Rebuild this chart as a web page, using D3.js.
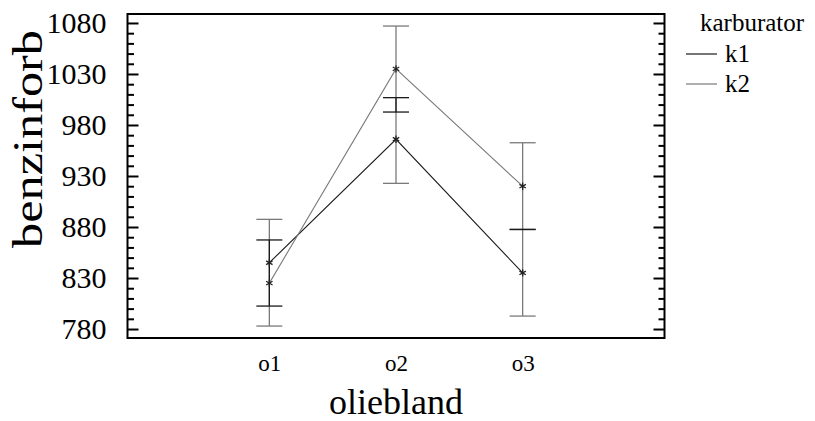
<!DOCTYPE html>
<html>
<head>
<meta charset="utf-8">
<script src="https://cdn.jsdelivr.net/npm/d3@7"></script>
<style>
  html, body { margin: 0; padding: 0; background: #fff; }
  svg { display: block; }
  text { font-family: "Liberation Serif", "Times New Roman", serif; fill: #000; }
</style>
</head>
<body>
<svg id="chart" width="815" height="421"></svg>
<script>
// Interaction plot: fuel use by oil blend for two carburettors
const categories = ["o1", "o2", "o3"];
const seriesNames = ["k1", "k2"];
const k1Means = [845, 966, 835];
const k2Means = [825, 1035, 920];
// interval bars drawn at each oil blend
const innerLow = [802.5, 992.7, 877.6];
const innerHigh = [867.3, 1006.8, 877.6];
const outerLow = [782.9, 922.8, 792.7];
const outerHigh = [887.5, 1077.0, 962.6];
const yTicks = [780, 830, 880, 930, 980, 1030, 1080];
const yMinorTicks = d3.range(780, 1081, 10);

const colors = { k1: "#1a1a1a", k2: "#7a7a7a" };
const serif = '"Liberation Serif", "Times New Roman", serif';

const svg = d3.select("#chart");
const plotLeft = 127.5, plotRight = 664.5, plotTop = 14, plotBottom = 338;

const x = d3.scalePoint().domain(categories).range([plotLeft, plotRight]).padding(1.12);
const y = d3.scaleLinear().domain([771.2, 1088.8]).range([plotBottom, plotTop]);

// frame
svg.append("rect")
  .attr("x", plotLeft).attr("y", plotTop)
  .attr("width", plotRight - plotLeft).attr("height", plotBottom - plotTop)
  .attr("fill", "none").attr("stroke", "#000").attr("stroke-width", 2);

function styleTicks(g) {
  g.select(".domain").remove();
  g.selectAll(".tick line").attr("stroke", "#000").attr("stroke-width", 2);
}
const minorValues = yMinorTicks.filter(v => !yTicks.includes(v));

// left axis: ticks point inward, labels outside
const gL = svg.append("g").attr("transform", `translate(${plotLeft},0)`)
  .call(d3.axisLeft(y).tickValues(yTicks).tickSize(-11).tickPadding(21).tickFormat(d3.format("d")));
styleTicks(gL);
gL.attr("font-family", serif).attr("font-size", 30);
gL.selectAll(".tick text").attr("fill", "#000");

const gLm = svg.append("g").attr("transform", `translate(${plotLeft},0)`)
  .call(d3.axisLeft(y).tickValues(minorValues).tickSize(-6.5).tickFormat(""));
styleTicks(gLm);

// right axis mirrors the ticks
const gR = svg.append("g").attr("transform", `translate(${plotRight},0)`)
  .call(d3.axisRight(y).tickValues(yTicks).tickSize(-11).tickFormat(""));
styleTicks(gR);
const gRm = svg.append("g").attr("transform", `translate(${plotRight},0)`)
  .call(d3.axisRight(y).tickValues(minorValues).tickSize(-6).tickFormat(""));
styleTicks(gRm);

// bottom category labels (no tick marks)
const gB = svg.append("g").attr("transform", `translate(0,${plotBottom})`)
  .call(d3.axisBottom(x).tickSize(0).tickPadding(17));
gB.select(".domain").remove();
gB.attr("font-family", serif).attr("font-size", 23);
gB.selectAll(".tick text").attr("fill", "#000");

// axis titles
svg.append("text")
  .attr("x", (plotLeft + plotRight) / 2).attr("y", 414)
  .attr("text-anchor", "middle")
  .attr("font-family", serif).attr("font-size", 36)
  .text("oliebland");
svg.append("text")
  .attr("transform", "translate(42,139) rotate(-90) scale(1.17,1)")
  .attr("text-anchor", "middle")
  .attr("font-family", serif).attr("font-size", 43)
  .text("benzinforb");

// interval bars
const capHalf = 13;
function drawBar(lo, hi, color) {
  const g = svg.append("g").attr("stroke", color).attr("stroke-width", 1.3).attr("fill", "none");
  categories.forEach((c, i) => {
    const cx = x(c);
    g.append("line").attr("x1", cx).attr("x2", cx).attr("y1", y(lo[i])).attr("y2", y(hi[i]));
    g.append("line").attr("x1", cx - capHalf).attr("x2", cx + capHalf).attr("y1", y(lo[i])).attr("y2", y(lo[i]));
    g.append("line").attr("x1", cx - capHalf).attr("x2", cx + capHalf).attr("y1", y(hi[i])).attr("y2", y(hi[i]));
  });
}
drawBar(outerLow, outerHigh, colors.k2);
drawBar(innerLow, innerHigh, colors.k1);

// series lines and markers
const series = [
  { name: "k1", values: k1Means },
  { name: "k2", values: k2Means }
];
const line = d3.line().x((d, i) => x(categories[i])).y(d => y(d));
const asterisk = d3.symbol().type(d3.symbolAsterisk).size(38);
series.forEach(s => {
  svg.append("path")
    .attr("d", line(s.values))
    .attr("fill", "none").attr("stroke", colors[s.name]).attr("stroke-width", 1.1);
  svg.append("g").selectAll("path").data(s.values).join("path")
    .attr("transform", (d, i) => `translate(${x(categories[i])},${y(d)})`)
    .attr("d", asterisk)
    .attr("fill", "none").attr("stroke", "#222").attr("stroke-width", 1.3);
});

// legend
svg.append("text").attr("x", 700).attr("y", 31)
  .attr("font-family", serif).attr("font-size", 25).text("karburator");
seriesNames.forEach((n, i) => {
  const ly = 54 + i * 30;
  svg.append("line").attr("x1", 686).attr("x2", 717).attr("y1", ly).attr("y2", ly)
    .attr("stroke", colors[n]).attr("stroke-width", 1.2);
  svg.append("text").attr("x", 725).attr("y", ly + 8)
    .attr("font-family", serif).attr("font-size", 25).text(n);
});
</script>
</body>
</html>
